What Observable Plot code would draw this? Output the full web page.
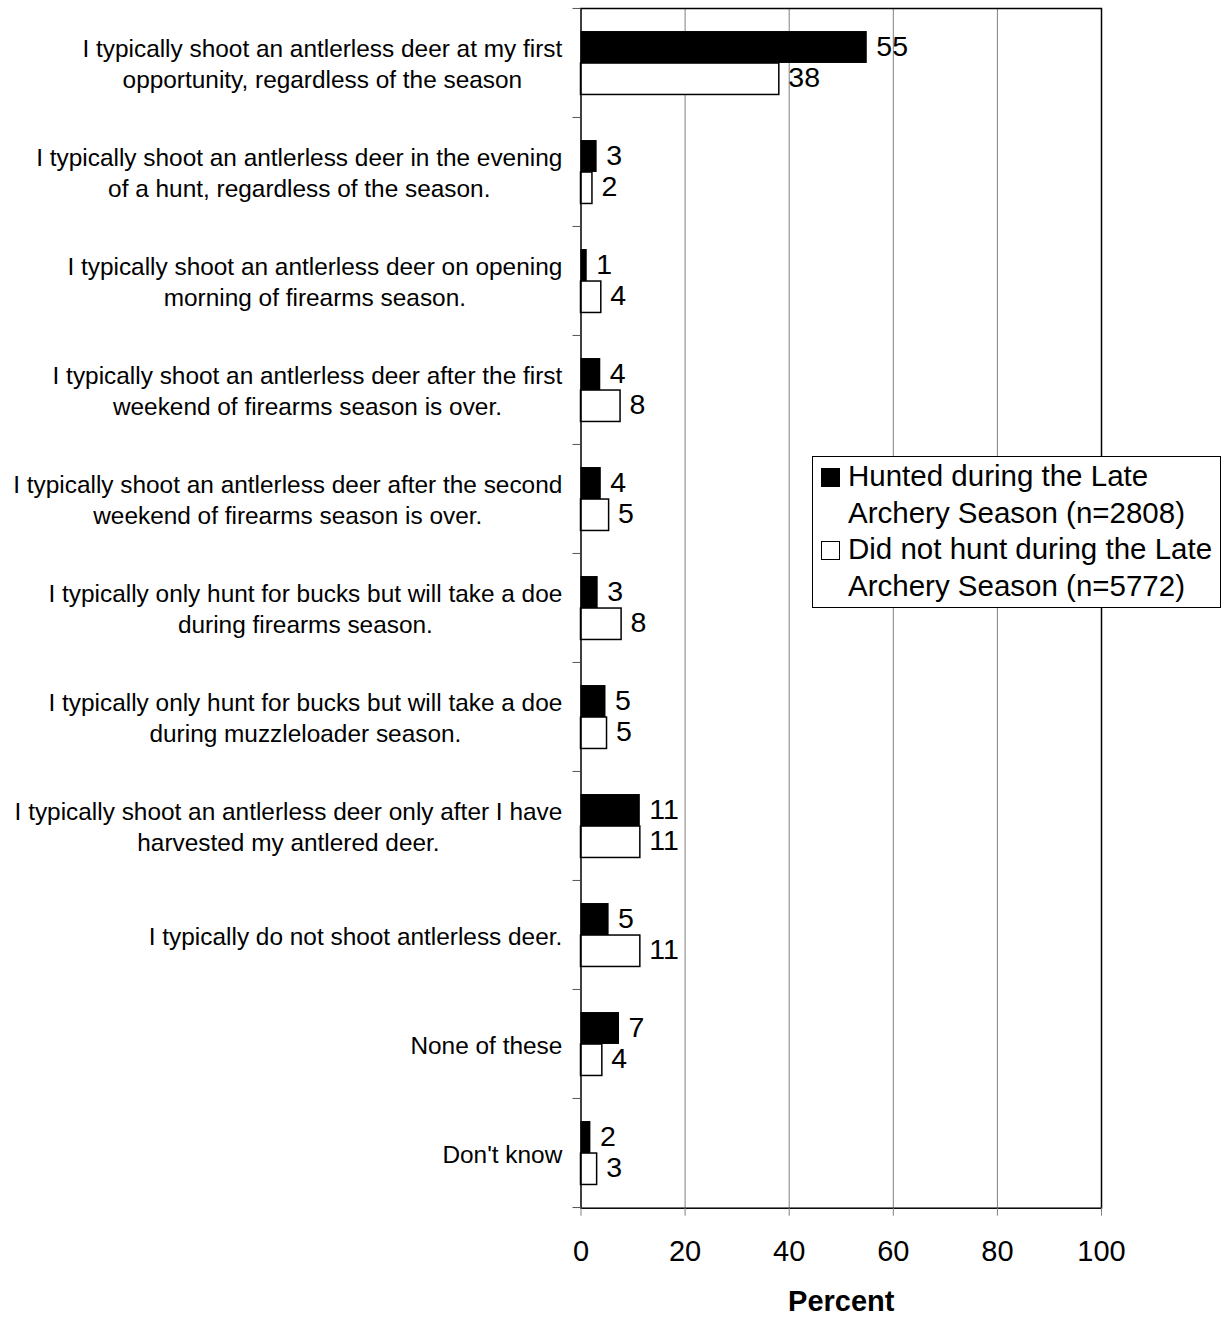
<!DOCTYPE html>
<html>
<head>
<meta charset="utf-8">
<script src="https://cdn.jsdelivr.net/npm/d3@7"></script>
<script src="https://cdn.jsdelivr.net/npm/@observablehq/plot@0.6"></script>
<style>
  html, body { margin: 0; padding: 0; background: #fff; }
  #wrap { position: relative; width: 1225px; height: 1317px; font-family: 'Liberation Sans', Arial, sans-serif; }
  #wrap svg { display: block; }
  #legend { position: absolute; left: 812px; top: 456px; width: 407px; height: 149px; border: 1px solid #000;
            background: #fff; font-size: 29.5px; line-height: 36.7px; color: #000; padding-top: 1px; box-sizing: content-box; }
  #legend .item { position: relative; padding-left: 35px; white-space: nowrap; }
  #legend .sw { position: absolute; left: 8px; top: 10px; width: 19px; height: 19px; box-sizing: border-box; }
</style>
</head>
<body>
<div id="wrap"></div>
<script>
// ---- data ----
const categories = [
  "I typically shoot an antlerless deer at my first\nopportunity, regardless of the season",
  "I typically shoot an antlerless deer in the evening\nof a hunt, regardless of the season.",
  "I typically shoot an antlerless deer on opening\nmorning of firearms season.",
  "I typically shoot an antlerless deer after the first\nweekend of firearms season is over.",
  "I typically shoot an antlerless deer after the second\nweekend of firearms season is over.",
  "I typically only hunt for bucks but will take a doe\nduring firearms season.",
  "I typically only hunt for bucks but will take a doe\nduring muzzleloader season.",
  "I typically shoot an antlerless deer only after I have\nharvested my antlered deer.",
  "I typically do not shoot antlerless deer.",
  "None of these",
  "Don't know"
];
const hunted    = [55.0, 3.1, 1.2, 3.8, 3.9, 3.3, 4.8, 11.4, 5.4, 7.4, 1.9];
const notHunted = [38.1, 2.2, 3.9, 7.6, 5.4, 7.8, 5.0, 11.4, 11.4, 4.1, 3.1];
const seriesNames = ["Hunted during the Late\nArchery Season (n=2808)", "Did not hunt during the Late\nArchery Season (n=5772)"];
const xTicks = [0, 20, 40, 60, 80, 100];
const xLabel = "Percent";

// ---- layout ----
const W = 1225, H = 1317;
const mL = 580.5, mR = 124, mT = 8, mB = 109.3;
const bw = (H - mT - mB) / categories.length;
const font = "'Liberation Sans', Arial, sans-serif";
const rows = categories.map((c, i) => ({category: c, hunted: hunted[i], notHunted: notHunted[i]}));

const ctx = document.createElement("canvas").getContext("2d");
ctx.font = `24.4px ${font}`;
const labelMarks = categories.map((c) => {
  const lines = c.split("\n");
  const w = Math.max(...lines.map(l => ctx.measureText(l).width));
  return Plot.text([c], {y: d => d, text: d => d, frameAnchor: "left", textAnchor: "middle",
    dx: -18.7 - w / 2, fontSize: 24.4, lineHeight: 1.27, fill: "black"});
});

const chart = Plot.plot({
  width: W, height: H,
  marginLeft: mL, marginRight: mR, marginTop: mT, marginBottom: mB,
  style: {fontFamily: font, background: "white", color: "black"},
  x: {domain: [0, 100], label: null},
  y: {type: "band", domain: categories, padding: 0, label: null},
  marks: [
    Plot.gridX({ticks: [20, 40, 60, 80], stroke: "#808080", strokeOpacity: 1, strokeWidth: 1}),
    Plot.barX(rows, {y: "category", x: "hunted", fill: "black", insetTop: bw / 2 - 31.5, insetBottom: bw / 2 - 0.5}),
    Plot.barX(rows, {y: "category", x: "notHunted", fill: "white", stroke: "black", strokeWidth: 1.5, insetTop: bw / 2 + 0.5, insetBottom: bw / 2 - 32}),
    Plot.frame({stroke: "black", strokeWidth: 1.5}),
    Plot.text(rows, {y: "category", x: "hunted", text: d => String(Math.round(d.hunted)), textAnchor: "start", dx: 9, dy: -16, fontSize: 28.5, fill: "black"}),
    Plot.text(rows, {y: "category", x: "notHunted", text: d => String(Math.round(d.notHunted)), textAnchor: "start", dx: 9, dy: 15, fontSize: 28.5, fill: "black"}),
    ...labelMarks,
    Plot.axisY({tickSize: 8, tickFormat: () => "", dy: -bw / 2, stroke: "#555", label: null}),
    Plot.axisY({ticks: [categories[categories.length - 1]], tickSize: 8, tickFormat: () => "", dy: bw / 2, stroke: "#555", label: null}),
    Plot.axisX({ticks: xTicks, tickSize: 8, tickPadding: 24, fontSize: 29, stroke: "#808080", fill: "black", label: null}),
    Plot.text([xLabel], {text: d => d, frameAnchor: "bottom", lineAnchor: "top", dy: 82, fontSize: 29, fontWeight: "bold", fill: "black"})
  ]
});
const wrap = document.getElementById("wrap");
wrap.appendChild(chart);

// legend
const legend = document.createElement("div");
legend.id = "legend";
const swatchStyles = ["background:#000;", "background:#fff;border:1.5px solid #000;"];
seriesNames.forEach((name, i) => {
  const item = document.createElement("div");
  item.className = "item";
  const sw = document.createElement("div");
  sw.className = "sw";
  sw.setAttribute("style", swatchStyles[i]);
  item.appendChild(sw);
  name.split("\n").forEach(line => {
    const l = document.createElement("div");
    l.textContent = line;
    item.appendChild(l);
  });
  legend.appendChild(item);
});
wrap.appendChild(legend);
</script>
</body>
</html>
